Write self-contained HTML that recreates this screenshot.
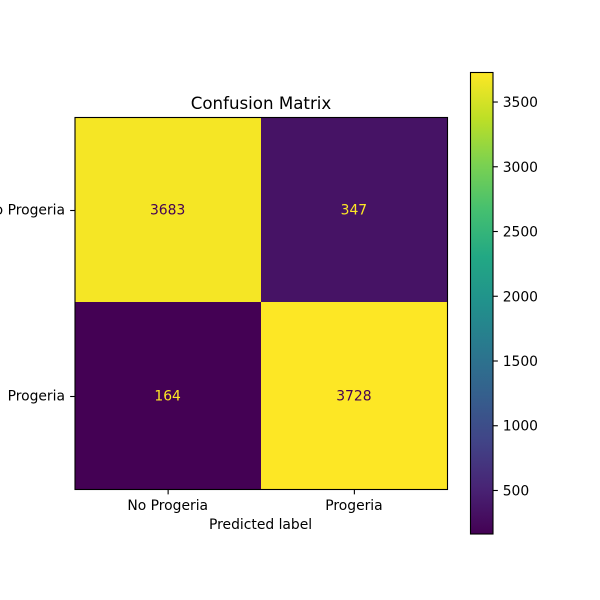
<!DOCTYPE html>
<html>
<head>
<meta charset="utf-8">
<title>Confusion Matrix</title>
<style>
html,body{margin:0;padding:0;background:#fff;width:600px;height:600px;overflow:hidden}
svg{display:block}
text{font-family:"DejaVu Sans","Liberation Sans",sans-serif;fill:#000}
</style>
</head>
<body>
<svg id="chart" xmlns="http://www.w3.org/2000/svg" width="600" height="600" viewBox="0 0 600 600">
  <defs>
    <linearGradient id="cbar-gradient" x1="0" y1="1" x2="0" y2="0"></linearGradient>
  </defs>
  <rect width="600" height="600" fill="#ffffff"></rect>
  <g id="cells"></g>
  <g id="cell-labels"></g>
  <rect x="75" y="117.5" width="372.5" height="372" fill="none" stroke="#000" stroke-width="1.11"></rect>
  <g id="x-axis"></g>
  <g id="y-axis"></g>
  <text x="261" y="109" font-size="16.67" text-anchor="middle">Confusion Matrix</text>
  <text x="260.6" y="529" font-size="13.89" text-anchor="middle">Predicted label</text>
  <rect x="470.5" y="72.5" width="22.5" height="461.5" fill="url(#cbar-gradient)"></rect>
  <rect x="470.5" y="72.5" width="22.5" height="461.5" fill="none" stroke="#000" stroke-width="1.11"></rect>
  <g id="cbar-axis"></g>
</svg>
<script>
const xCategories = ['No Progeria', 'Progeria'];
const yCategories = ['No Progeria', 'Progeria'];
const row0Values = [3683, 347];
const row1Values = [164, 3728];
const colorbarTicks = [500, 1000, 1500, 2000, 2500, 3000, 3500];

const matrixRows = [row0Values, row1Values];
const NS = 'http://www.w3.org/2000/svg';
const viridis = ['#440154','#482475','#414487','#355f8d','#2a788e','#21918c','#22a884','#44bf70','#7ad151','#bddf26','#fde725'];

function make(tag, attrs, parent, txt) {
  const el = document.createElementNS(NS, tag);
  for (const k in attrs) el.setAttribute(k, attrs[k]);
  if (txt !== undefined) el.textContent = txt;
  parent.appendChild(el);
  return el;
}
function hexToRgb(h) {
  return [1, 3, 5].map(i => parseInt(h.substr(i, 2), 16));
}
function colormap(t) {
  t = Math.max(0, Math.min(1, t));
  const p = t * (viridis.length - 1);
  const i = Math.min(Math.floor(p), viridis.length - 2);
  const f = p - i;
  const a = hexToRgb(viridis[i]);
  const b = hexToRgb(viridis[i + 1]);
  return 'rgb(' + a.map((v, n) => Math.round(v + (b[n] - v) * f)).join(',') + ')';
}

const allValues = matrixRows.flat();
const vMin = Math.min(...allValues);
const vMax = Math.max(...allValues);
const norm = v => (v - vMin) / (vMax - vMin);

const plotLeft = 75, plotRight = 447.5, plotTop = 117.5, plotBottom = 489.5;
const cellW = (plotRight - plotLeft) / xCategories.length;
const cellH = (plotBottom - plotTop) / yCategories.length;
const xPos = i => plotLeft + cellW * i;
const yPos = i => plotTop + cellH * i;
/* the raster image edges snap to whole pixels, with the row seam sitting just above the true midpoint */
const xEdge = i => Math.floor(xPos(i));
const yEdge = i => (i > 0 && i < yCategories.length) ? Math.floor(yPos(i)) - 1 : Math.floor(yPos(i));
const cbarTop = 72.5, cbarBottom = 534, cbarRight = 493;
const cbarY = v => cbarBottom - norm(v) * (cbarBottom - cbarTop);

const cellsG = document.getElementById('cells');
const labelsG = document.getElementById('cell-labels');
const midpoint = (vMin + vMax) / 2;
matrixRows.forEach((row, r) => {
  row.forEach((v, c) => {
    const cell = make('rect', {
      x: xEdge(c), y: yEdge(r),
      width: xEdge(c + 1) - xEdge(c), height: yEdge(r + 1) - yEdge(r),
      fill: colormap(norm(v)), 'shape-rendering': 'crispEdges'
    }, cellsG);
    
    
    const label = make('text', {
      x: xPos(c) + cellW / 2 - 0.5, y: yPos(r) + cellH / 2 + 4,
      'font-size': '13.89', 'text-anchor': 'middle',
      style: 'fill:' + (v > midpoint ? viridis[0] : viridis[10])
    }, labelsG, String(v));
    
    
  });
});

const xAxisG = document.getElementById('x-axis');
xCategories.forEach((name, i) => {
  const x = xPos(i) + cellW / 2;
  const tick = make('line', { x1: x, x2: x, y1: plotBottom, y2: plotBottom + 4.86, stroke: '#000', 'stroke-width': 1.11 }, xAxisG);
  
  
  const t = make('text', { x: x - 0.4, y: 510, 'font-size': '13.89', 'text-anchor': 'middle' }, xAxisG, name);
  
  
});

const yAxisG = document.getElementById('y-axis');
yCategories.forEach((name, i) => {
  const y = yPos(i) + cellH / 2;
  const tick = make('line', { x1: plotLeft - 4.86, x2: plotLeft, y1: y, y2: y, stroke: '#000', 'stroke-width': 1.11 }, yAxisG);
  
  
  const t = make('text', { x: 65, y: y + 4, 'font-size': '13.89', 'text-anchor': 'end' }, yAxisG, name);
  
  
});

const grad = document.getElementById('cbar-gradient');
viridis.forEach((col, i) => {
  make('stop', { offset: (i / (viridis.length - 1) * 100) + '%', 'stop-color': col }, grad);
});

const cbarG = document.getElementById('cbar-axis');
colorbarTicks.forEach(v => {
  const y = cbarY(v);
  const tick = make('line', { x1: cbarRight, x2: cbarRight + 4.86, y1: y, y2: y, stroke: '#000', 'stroke-width': 1.11 }, cbarG);
  
  
  const t = make('text', { x: 502.7, y: y + 5, 'font-size': '13.89' }, cbarG, String(v));
  
  
});
</script>
</body>
</html>
